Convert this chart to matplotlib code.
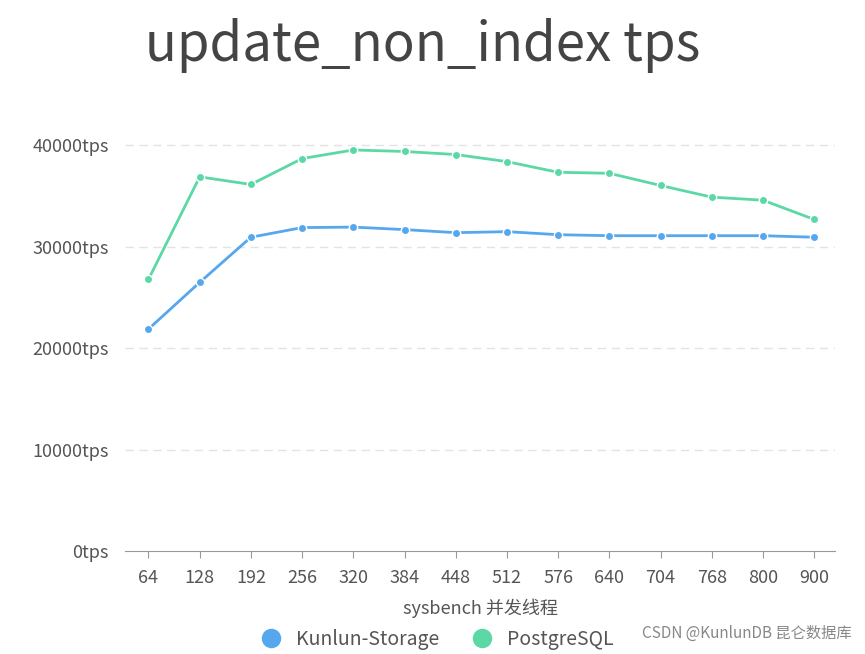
import matplotlib
matplotlib.use("Agg")
import matplotlib.pyplot as plt
from matplotlib.lines import Line2D

plt.rcParams['font.family'] = ['Noto Sans CJK SC', 'DejaVu Sans']

threads = ['64', '128', '192', '256', '320', '384', '448', '512', '576', '640', '704', '768', '800', '900']
kunlun = [21900, 26500, 30950, 31900, 31950, 31700, 31400, 31500, 31200, 31100, 31100, 31100, 31100, 30950]
postgres = [26800, 36900, 36150, 38700, 39550, 39400, 39100, 38400, 37350, 37250, 36050, 34900, 34600, 32700]
yticks = [0, 10000, 20000, 30000, 40000]

blue = '#55a8ee'
green = '#5bd8a6'
text_c = '#555555'

fig = plt.figure(figsize=(8.65, 6.54), dpi=100)
ax = fig.add_axes([0.145, 0.157, 0.82, 0.63])

x = list(range(len(threads)))
ax.plot(x, kunlun, color=blue, lw=2, marker='o', ms=6, mec='white', mew=1)
ax.plot(x, postgres, color=green, lw=2, marker='o', ms=6, mec='white', mew=1)

ax.set_xlim(-0.45, len(threads) - 0.6)
ax.set_ylim(0, 40600)
ax.set_yticks(yticks)
ax.set_yticklabels([f"{v}tps" for v in yticks], fontsize=13, color=text_c)
ax.set_xticks(x)
ax.set_xticklabels(threads, fontsize=13, color=text_c)
ax.tick_params(axis='y', length=0, pad=12)
ax.tick_params(axis='x', length=5, color='#999999', pad=8)
for v in yticks[1:]:
    ax.axhline(v, color='#e3e3e3', lw=1, ls=(0, (6, 4)), zorder=0)
for s in ['top', 'right', 'left']:
    ax.spines[s].set_visible(False)
ax.spines['bottom'].set_color('#999999')

ax.set_xlabel("sysbench 并发线程", fontsize=13, color=text_c, labelpad=8)

fig.text(0.168, 0.93, "update_non_index tps", fontsize=38, color='#444444', va='center')

handles = [Line2D([], [], ls='', marker='o', ms=13, color=blue),
           Line2D([], [], ls='', marker='o', ms=13, color=green)]
fig.legend(handles, ['Kunlun-Storage', 'PostgreSQL'], loc='lower center',
           bbox_to_anchor=(0.5, -0.02), ncol=2, frameon=False, fontsize=14,
           handletextpad=0.3, columnspacing=1.2, labelcolor=text_c)

fig.text(0.985, 0.025, "CSDN @KunlunDB 昆仑数据库", fontsize=11, color='#888888', ha='right')

fig.savefig("out.png", dpi=100)
